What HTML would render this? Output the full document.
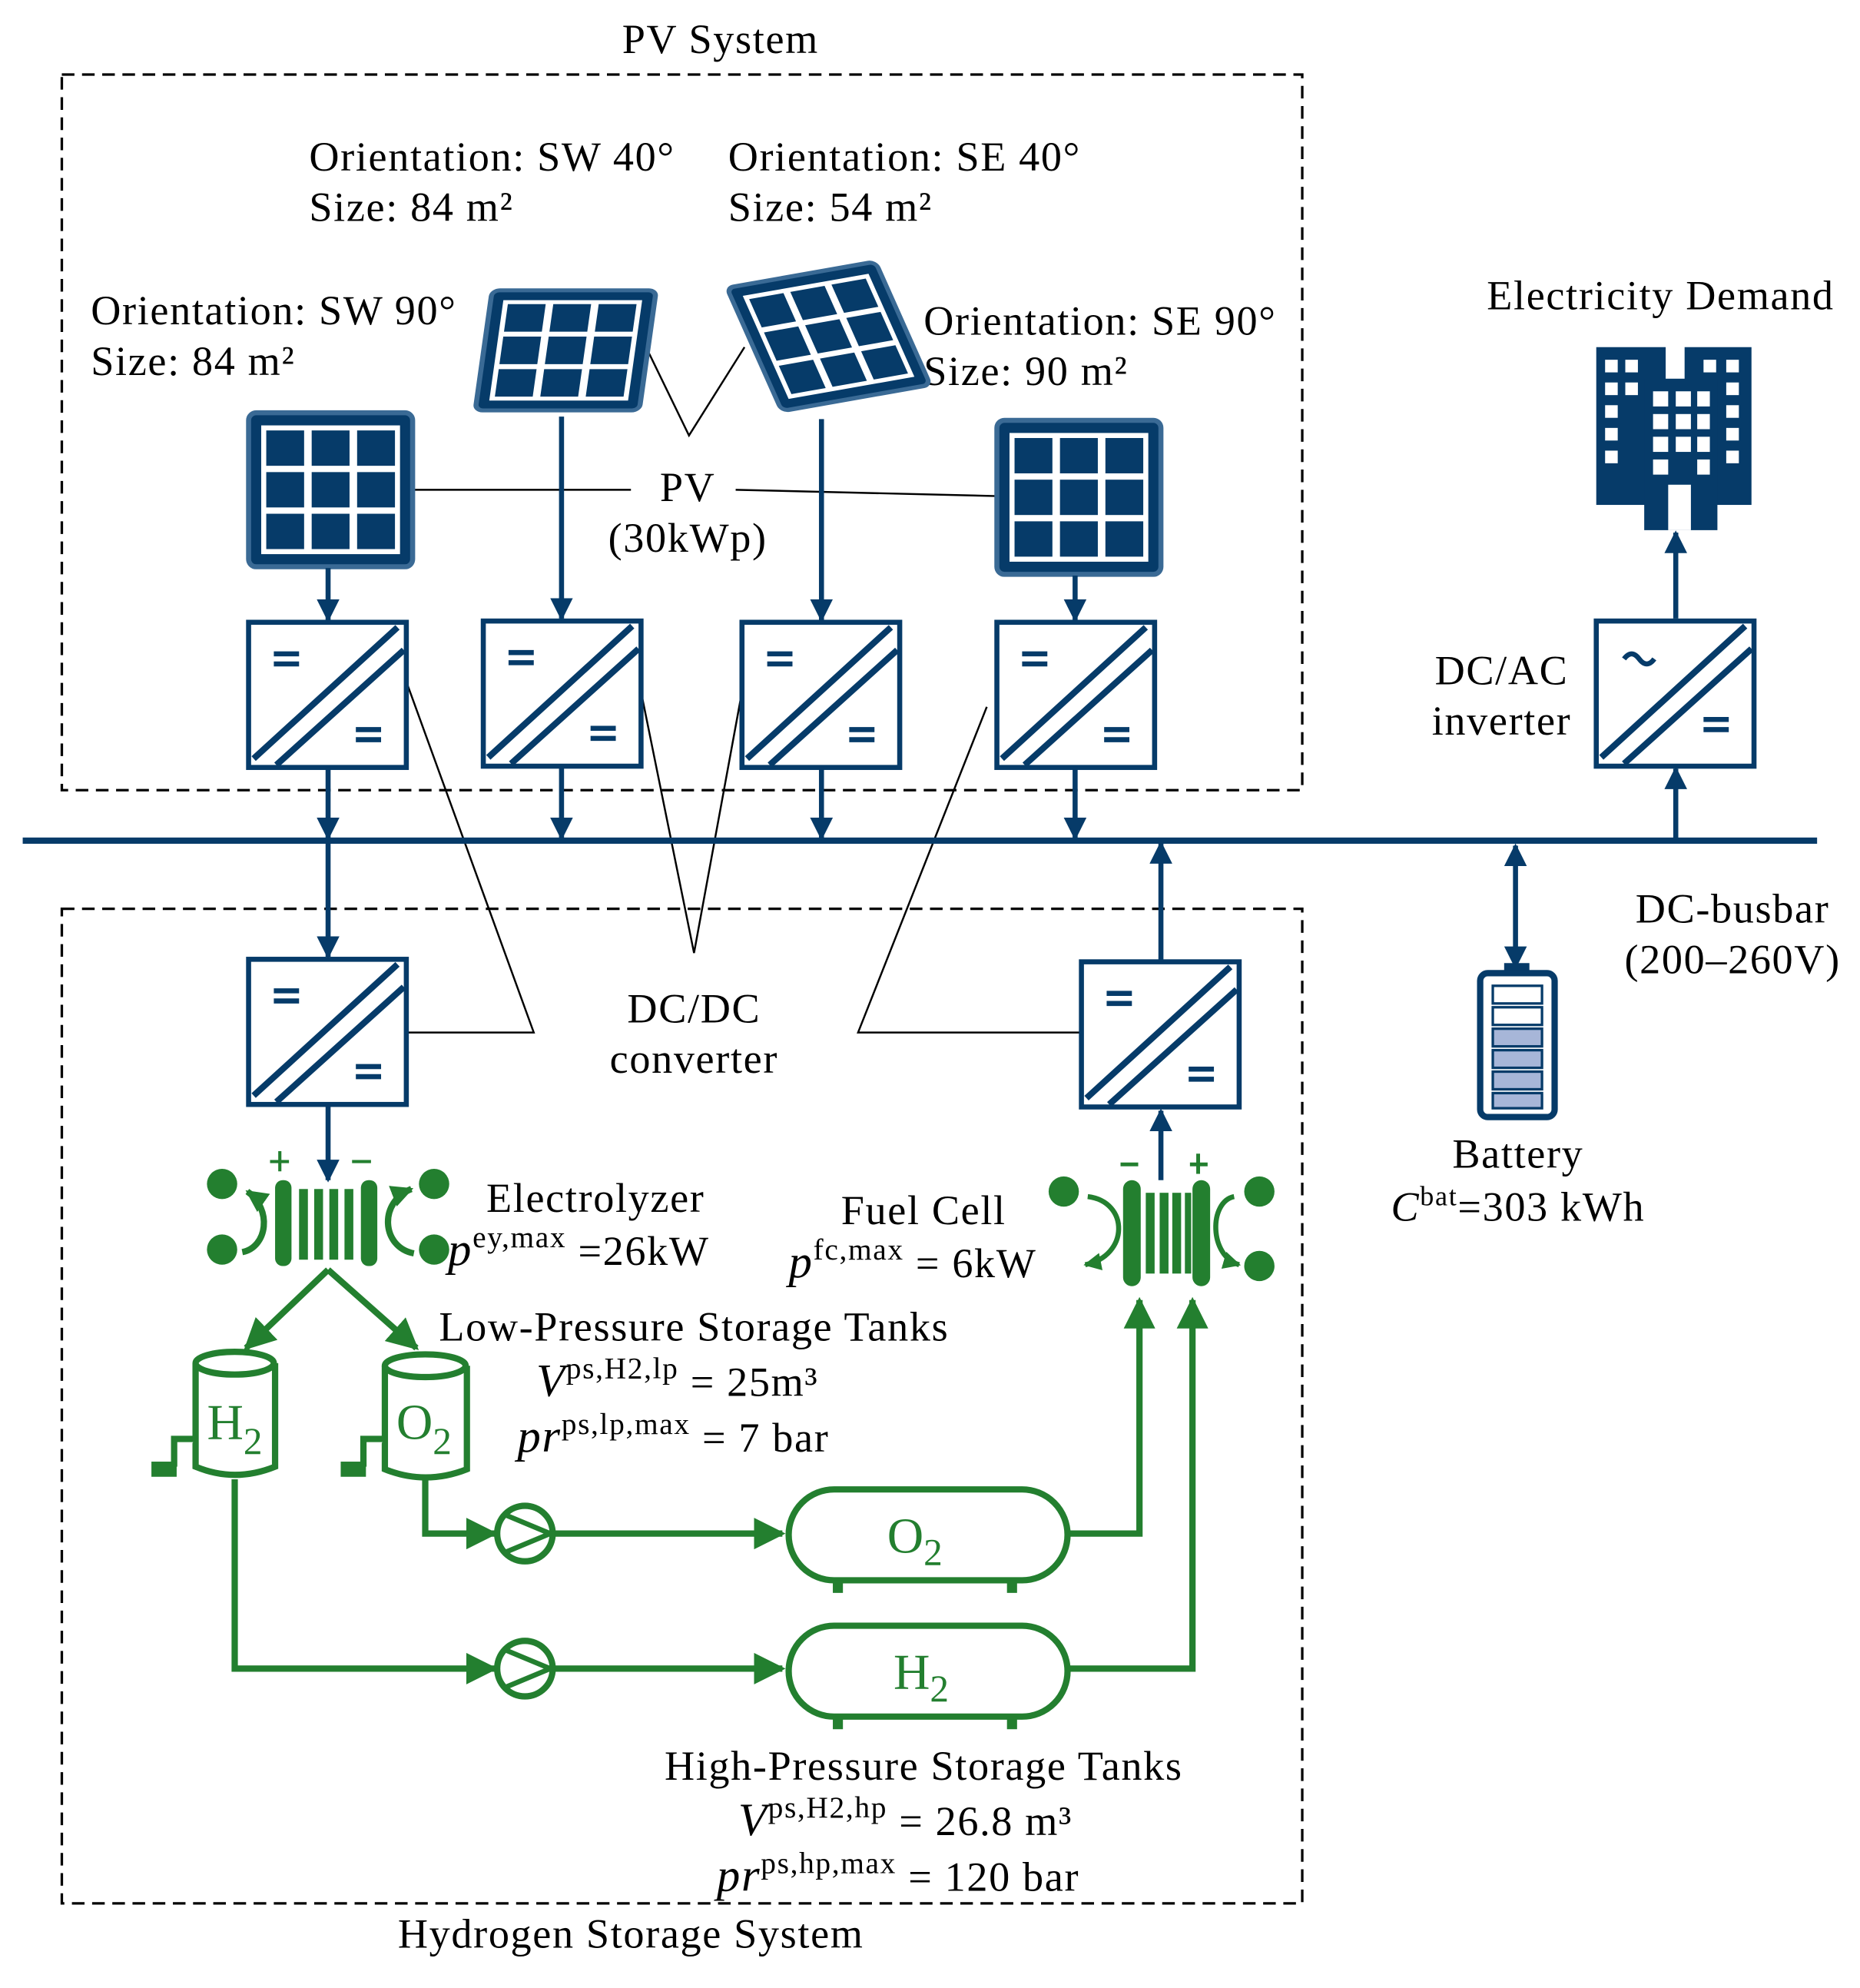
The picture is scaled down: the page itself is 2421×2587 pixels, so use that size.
<!DOCTYPE html>
<html><head><meta charset="utf-8"><style>
html,body{margin:0;padding:0;background:#fff}
svg{display:block}
text{font-family:"Liberation Serif",serif;fill:#000}
</style></head><body>
<svg width="2421" height="2587" viewBox="0 0 1474 1575" xmlns="http://www.w3.org/2000/svg">
<defs>
<marker id="ab" viewBox="0 0 10 10" refX="9" refY="5" markerWidth="4.5" markerHeight="4.5" orient="auto-start-reverse"><path d="M0,0L10,5L0,10z" fill="#063b69"/></marker>
<marker id="ag" viewBox="0 0 10 10" refX="9" refY="5" markerWidth="5" markerHeight="5" orient="auto-start-reverse"><path d="M0,0L10,5L0,10z" fill="#237f2f"/></marker>
<marker id="ag2" viewBox="0 0 10 10" refX="9" refY="5" markerWidth="3.5" markerHeight="3.5" orient="auto"><path d="M0,0L10,5L0,10z" fill="#237f2f"/></marker>
<g id="conv"><rect x="0" y="0" width="125" height="115" fill="#fff" stroke="#063b69" stroke-width="4"/>
<path d="M4,108L118,4M22,113L123,22" stroke="#063b69" stroke-width="5" fill="none"/>
<path d="M20,25h20M20,33h20M85,85h20M85,93h20" stroke="#063b69" stroke-width="4"/></g>
<g id="panel"><rect x="0" y="0" width="130" height="122" rx="6" fill="#063b69" stroke="#3a6a95" stroke-width="4"/>
<g fill="#fff"><rect x="10" y="10" width="110" height="102"/></g>
<g fill="#063b69"><rect x="14" y="14" width="30" height="28"/><rect x="50" y="14" width="30" height="28"/><rect x="86" y="14" width="30" height="28"/>
<rect x="14" y="47" width="30" height="28"/><rect x="50" y="47" width="30" height="28"/><rect x="86" y="47" width="30" height="28"/>
<rect x="14" y="80" width="30" height="28"/><rect x="50" y="80" width="30" height="28"/><rect x="86" y="80" width="30" height="28"/></g></g>
</defs>
<rect x="49" y="59" width="983" height="567" fill="none" stroke="#000" stroke-width="2" stroke-dasharray="10,6"/>
<rect x="49" y="720" width="983" height="788" fill="none" stroke="#000" stroke-width="2" stroke-dasharray="10,6"/>
<g font-size="33" letter-spacing="1">
<text x="571" y="42" text-anchor="middle">PV System</text>
<text x="500" y="1543" text-anchor="middle">Hydrogen Storage System</text>
<text x="245" y="135">Orientation:  SW 40°</text><text x="245" y="175">Size: 84 m²</text>
<text x="577" y="135">Orientation:  SE 40°</text><text x="577" y="175">Size: 54 m²</text>
<text x="72" y="257">Orientation:  SW 90°</text><text x="72" y="297">Size: 84 m²</text>
<text x="732" y="265">Orientation:  SE 90°</text><text x="732" y="305">Size: 90 m²</text>
<text x="545" y="397" text-anchor="middle">PV</text><text x="545" y="437" text-anchor="middle">(30kWp)</text>
<text x="1316" y="245" text-anchor="middle">Electricity Demand</text>
<text x="1190" y="542" text-anchor="middle">DC/AC</text><text x="1190" y="582" text-anchor="middle">inverter</text>
<text x="1373" y="731" text-anchor="middle">DC-busbar</text><text x="1373" y="771" text-anchor="middle">(200–260V)</text>
<text x="550" y="810" text-anchor="middle">DC/DC</text><text x="550" y="850" text-anchor="middle">converter</text>
<text x="1203" y="925" text-anchor="middle">Battery</text>
<text x="1203" y="967" text-anchor="middle"><tspan font-style="italic">C</tspan><tspan font-size="22" dy="-12">bat</tspan><tspan dy="12">=303 kWh</tspan></text>
<text x="472" y="960" text-anchor="middle">Electrolyzer</text>
<text x="355" y="1002"><tspan font-style="italic" font-size="37">p</tspan><tspan font-size="24" dy="-14">ey,max</tspan><tspan dy="14"> =26kW</tspan></text>
<text x="732" y="970" text-anchor="middle">Fuel Cell</text>
<text x="625" y="1012"><tspan font-style="italic" font-size="37">p</tspan><tspan font-size="24" dy="-14">fc,max</tspan><tspan dy="14"> = 6kW</tspan></text>
<text x="550" y="1062" text-anchor="middle">Low-Pressure  Storage  Tanks</text>
<text x="425" y="1106"><tspan font-style="italic" font-size="37">V</tspan><tspan font-size="24" dy="-14">ps,H2,lp</tspan><tspan dy="14">  = 25m³</tspan></text>
<text x="410" y="1150"><tspan font-style="italic" font-size="37">pr</tspan><tspan font-size="24" dy="-14">ps,lp,max</tspan><tspan dy="14">  = 7 bar</tspan></text>
<text x="732" y="1410" text-anchor="middle">High-Pressure  Storage  Tanks</text>
<text x="585" y="1454"><tspan font-style="italic" font-size="37">V</tspan><tspan font-size="24" dy="-14">ps,H2,hp</tspan><tspan dy="14">  = 26.8 m³</tspan></text>
<text x="568" y="1498"><tspan font-style="italic" font-size="37">pr</tspan><tspan font-size="24" dy="-14">ps,hp,max</tspan><tspan dy="14">  = 120 bar</tspan></text>
</g>
<g stroke="#000" stroke-width="1.5" fill="none">
<path d="M327,388H500M583,388L790,393"/>
<path d="M512,275L546,345L590,275"/>
<path d="M322,540L423,818H323"/>
<path d="M508,548L550,755L588,548"/>
<path d="M782,560L680,818H857"/>
</g>
<use href="#panel" x="197" y="327"/>
<use href="#panel" x="790" y="333"/>
<g transform="translate(390,230) skewX(-8) scale(1,0.78)"><use href="#panel" x="0" y="0"/></g>
<g transform="translate(576,228) rotate(-10) skewX(14) scale(0.92,0.85)"><use href="#panel" x="0" y="0"/></g>
<use href="#conv" x="197" y="493"/><use href="#conv" x="383" y="492"/><use href="#conv" x="588" y="493"/><use href="#conv" x="790" y="493"/>
<use href="#conv" x="197" y="760"/><use href="#conv" x="857" y="762"/>
<g><rect x="1265" y="492" width="125" height="115" fill="#fff" stroke="#063b69" stroke-width="4"/>
<path d="M1269,600L1383,496M1287,605L1388,514" stroke="#063b69" stroke-width="5"/>
<path d="M1287,522q6,-8 12,0t12,0" stroke="#063b69" stroke-width="4" fill="none"/>
<path d="M1350,570h20M1350,578h20" stroke="#063b69" stroke-width="4"/></g>
<line x1="18" y1="666" x2="1440" y2="666" stroke="#063b69" stroke-width="5"/>
<g stroke="#063b69" stroke-width="4" marker-end="url(#ab)">
<line x1="260" y1="450" x2="260" y2="491"/><line x1="445" y1="330" x2="445" y2="490"/><line x1="651" y1="332" x2="651" y2="491"/><line x1="852" y1="456" x2="852" y2="491"/>
<line x1="260" y1="608" x2="260" y2="664"/><line x1="445" y1="607" x2="445" y2="664"/><line x1="651" y1="608" x2="651" y2="664"/><line x1="852" y1="608" x2="852" y2="664"/>
<line x1="260" y1="668" x2="260" y2="758"/><line x1="260" y1="876" x2="260" y2="935"/>
<line x1="920" y1="762" x2="920" y2="668"/><line x1="920" y1="935" x2="920" y2="880"/>
<line x1="1328" y1="664" x2="1328" y2="609"/><line x1="1328" y1="490" x2="1328" y2="422"/>
<line x1="1201" y1="670" x2="1201" y2="766" marker-start="url(#ab)"/>
</g>
<rect x="1192" y="763" width="20" height="8" fill="#063b69"/>
<rect x="1173" y="771" width="59" height="114" rx="6" fill="#fff" stroke="#063b69" stroke-width="5"/>
<g fill="#fff" stroke="#063b69" stroke-width="2"><rect x="1183" y="781" width="39" height="14"/><rect x="1183" y="798" width="39" height="14"/></g>
<g fill="#a7b6d8" stroke="#063b69" stroke-width="2"><rect x="1183" y="815" width="39" height="14"/><rect x="1183" y="832" width="39" height="14"/><rect x="1183" y="849" width="39" height="14"/><rect x="1183" y="866" width="39" height="12"/></g>
<g fill="#063b69">
<rect x="1265" y="275" width="55" height="125"/><rect x="1335" y="275" width="53" height="125"/><rect x="1303" y="300" width="58" height="120"/>
</g>
<g fill="#fff">
<rect x="1272" y="285" width="10" height="10"/><rect x="1288" y="285" width="10" height="10"/><rect x="1272" y="303" width="10" height="10"/><rect x="1288" y="303" width="10" height="10"/><rect x="1272" y="321" width="10" height="10"/><rect x="1272" y="339" width="10" height="10"/><rect x="1272" y="357" width="10" height="10"/>
<rect x="1350" y="285" width="10" height="10"/><rect x="1368" y="285" width="10" height="10"/><rect x="1368" y="303" width="10" height="10"/><rect x="1368" y="321" width="10" height="10"/><rect x="1368" y="339" width="10" height="10"/><rect x="1368" y="357" width="10" height="10"/>
<rect x="1310" y="310" width="12" height="12"/><rect x="1328" y="310" width="12" height="12"/><rect x="1345" y="310" width="10" height="12"/>
<rect x="1310" y="328" width="12" height="12"/><rect x="1328" y="328" width="12" height="12"/><rect x="1345" y="328" width="10" height="12"/>
<rect x="1310" y="346" width="12" height="12"/><rect x="1328" y="346" width="12" height="12"/><rect x="1345" y="346" width="10" height="12"/>
<rect x="1310" y="364" width="12" height="12"/><rect x="1345" y="364" width="10" height="12"/>
<rect x="1322" y="384" width="18" height="36"/>
</g>
<!-- electrolyzer -->
<g fill="#237f2f">
<rect x="218" y="935" width="13" height="68" rx="6"/><rect x="286" y="935" width="13" height="68" rx="6"/>
<rect x="237" y="942" width="7" height="56"/><rect x="249" y="942" width="7" height="56"/><rect x="261" y="942" width="7" height="56"/><rect x="273" y="942" width="7" height="56"/>
<circle cx="176" cy="938" r="12"/><circle cx="176" cy="990" r="12"/><circle cx="344" cy="938" r="12"/><circle cx="344" cy="990" r="12"/>
<rect x="214" y="919" width="15" height="2.5"/><rect x="220.5" y="912" width="2.5" height="16"/><rect x="279" y="919" width="15" height="2.5"/>
</g>
<g stroke="#237f2f" stroke-width="5" fill="none">
<path d="M192,992C212,988 216,958 196,944" marker-end="url(#ag2)"/>
<path d="M328,993C302,988 300,952 326,942" marker-end="url(#ag2)"/>
</g>
<!-- fuel cell -->
<g fill="#237f2f">
<rect x="890" y="935" width="14" height="84" rx="7"/><rect x="945" y="935" width="14" height="84" rx="7"/>
<rect x="908" y="945" width="7" height="64"/><rect x="919" y="945" width="7" height="64"/><rect x="929" y="945" width="7" height="64"/><rect x="939" y="945" width="5" height="64"/>
<circle cx="843" cy="944" r="12"/><circle cx="998" cy="944" r="12"/><circle cx="998" cy="1003" r="12"/>
<rect x="888" y="921" width="14" height="3"/><rect x="943" y="921" width="14" height="3"/><rect x="948" y="914" width="3" height="16"/>
</g>
<g stroke="#237f2f" stroke-width="4" fill="none">
<path d="M862,948C895,952 895,995 860,1002" marker-end="url(#ag2)"/>
<path d="M978,948C958,952 958,995 982,1002" marker-end="url(#ag2)"/>
</g>
<g stroke="#237f2f" stroke-width="5" fill="none" marker-end="url(#ag)">
<line x1="260" y1="1006" x2="195" y2="1068"/><line x1="260" y1="1006" x2="330" y2="1068"/>
<path d="M337,1172V1215H392"/><path d="M440,1215H620"/>
<path d="M186,1172V1322H392"/><path d="M440,1322H620"/>
<path d="M846,1215H903V1030"/><path d="M846,1322H945V1030"/>
</g>
<g stroke="#237f2f" stroke-width="5" fill="#fff">
<path d="M155,1080V1162Q186,1175 218,1162V1080"/><ellipse cx="186" cy="1080" rx="31" ry="9"/>
<path d="M305,1082V1164Q337,1177 370,1164V1082"/><ellipse cx="337" cy="1082" rx="32" ry="9"/>
<path d="M155,1140H138V1162M305,1140H288V1162" />
</g>
<g fill="#237f2f"><rect x="120" y="1158" width="20" height="12"/><rect x="270" y="1158" width="20" height="12"/></g>
<text x="186" y="1140" font-size="40" text-anchor="middle" style="fill:#237f2f">H<tspan font-size="30" dy="12">2</tspan></text>
<text x="336" y="1140" font-size="40" text-anchor="middle" style="fill:#237f2f">O<tspan font-size="30" dy="12">2</tspan></text>
<g stroke="#237f2f" stroke-width="5" fill="#fff"><circle cx="416" cy="1215" r="22"/><circle cx="416" cy="1322" r="22"/></g>
<g stroke="#237f2f" stroke-width="4" fill="none"><path d="M400,1200L436,1215L400,1230M400,1307L436,1322L400,1337"/></g>
<g stroke="#237f2f" stroke-width="5" fill="#fff">
<rect x="625" y="1180" width="221" height="72" rx="36"/><rect x="625" y="1288" width="221" height="72" rx="36"/>
</g>
<g fill="#237f2f"><rect x="660" y="1252" width="8" height="10"/><rect x="798" y="1252" width="8" height="10"/><rect x="660" y="1360" width="8" height="10"/><rect x="798" y="1360" width="8" height="10"/></g>
<text x="725" y="1230" font-size="40" text-anchor="middle" style="fill:#237f2f">O<tspan font-size="30" dy="10">2</tspan></text>
<text x="730" y="1338" font-size="40" text-anchor="middle" style="fill:#237f2f">H<tspan font-size="30" dy="10">2</tspan></text>
</svg>
</body></html>
